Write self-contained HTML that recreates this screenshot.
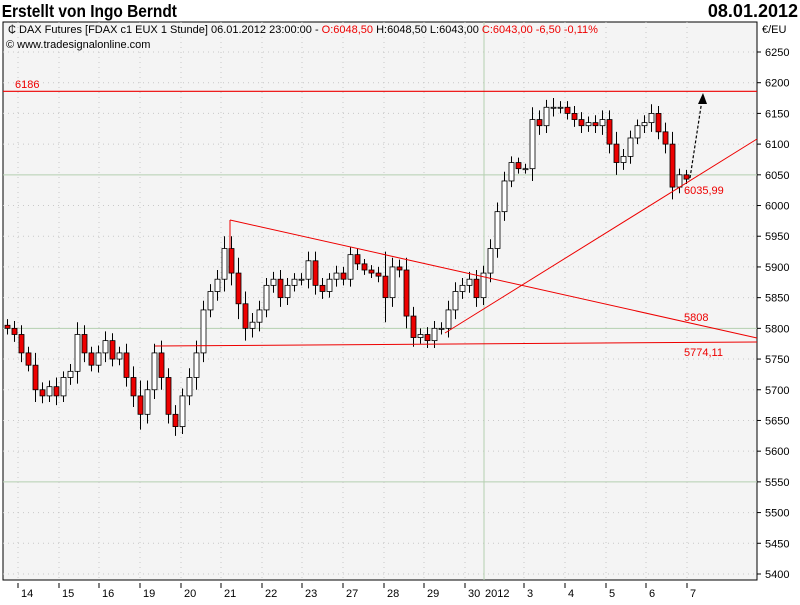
<!DOCTYPE html>
<html><head><meta charset="utf-8"><style>
body{margin:0;background:#fff;font-family:"Liberation Sans",sans-serif}
svg text{font-family:"Liberation Sans",sans-serif}
</style></head><body>
<svg id="c" width="800" height="600" xmlns="http://www.w3.org/2000/svg">
<rect x="0" y="0" width="800" height="600" fill="#fff"/>
<text x="2" y="17" font-size="18" font-weight="bold" transform="scale(0.86,1)">Erstellt von Ingo Berndt</text>
<text x="798" y="17" font-size="18" font-weight="bold" text-anchor="end">08.01.2012</text>
<rect x="3" y="22" width="754" height="558" fill="#f4f4f4" stroke="#000" stroke-width="1"/>
<g id="grid"></g>
<g id="candles"></g>
<g id="overlay"></g>
<text x="8" y="33" font-size="11">₵ DAX Futures [FDAX c1 EUX  1 Stunde] 06.01.2012 23:00:00 - <tspan fill="#e00">O:6048,50</tspan> H:6048,50 L:6043,00 <tspan fill="#e00">C:6043,00 -6,50 -0,11%</tspan></text>
<text x="6" y="48" font-size="11">© www.tradesignalonline.com</text>
<text x="762" y="33" font-size="11">€/EU</text>
</svg>
<script>
const yTicks=[6250,6200,6150,6100,6050,6000,5950,5900,5850,5800,5750,5700,5650,5600,5550,5500,5450,5400];
const xLabels=["14","15","16","19","20","21","22","23","27","28","29","30","2012","3","4","5","6","7"];
const xLabelPos=[18,59,99,140,181,221,262,302,343,384,424,465,500,524,565,606,646,687];
const closes=[5800,5790,5760,5740,5700,5690,5705,5690,5720,5730,5790,5760,5740,5760,5780,5750,5760,5720,5690,5660,5700,5760,5720,5660,5640,5690,5720,5760,5830,5860,5880,5930,5890,5840,5800,5810,5830,5870,5880,5850,5870,5880,5880,5910,5870,5860,5880,5890,5880,5920,5905,5895,5890,5885,5850,5900,5895,5820,5785,5790,5780,5800,5800,5830,5860,5870,5880,5850,5890,5930,5990,6040,6070,6060,6060,6140,6130,6160,6160,6160,6150,6140,6130,6135,6130,6140,6100,6070,6080,6110,6130,6135,6150,6120,6100,6030,6050,6043];
const wicks=[10,12,15,10,20,12,10,15,10,12,20,15,10,12,15,12,10,15,18,25,15,15,20,15,15,12,15,20,15,12,15,20,20,25,20,15,15,12,12,15,12,10,10,15,15,12,10,12,10,12,10,8,8,10,40,15,12,20,15,10,12,12,10,15,15,12,12,15,12,15,15,15,10,8,8,20,15,12,15,10,10,12,12,10,12,15,15,20,12,12,10,12,15,12,15,20,10,8];
const x0=5,step=7;
const Y=v=>52+(6250-v)*0.6141;
const X=i=>x0+i*step;
const NS='http://www.w3.org/2000/svg';
function mk(p,t,a){const e=document.createElementNS(NS,t);for(const k in a)e.setAttribute(k,a[k]);p.appendChild(e);return e;}
const svg=document.getElementById('c'),grid=document.getElementById('grid'),cg=document.getElementById('candles'),ov=document.getElementById('overlay');
yTicks.forEach(v=>{
 const y=Y(v);
 const green=(v===6050||v===5800||v===5550);
 const l=mk(grid,'line',{x1:3,x2:757,y1:y,y2:y,stroke:green?'#b5cfb0':'#c8c8c8','stroke-dasharray':green?'':'1,4'});
 
 
 const tk=mk(grid,'line',{x1:757,x2:761,y1:y,y2:y,stroke:'#000'});
 
 
 const t=mk(svg,'text',{x:765,y:y+4,'font-size':11});t.textContent=v;
 
 
});
xLabels.forEach((s,i)=>{
 const x=xLabelPos[i];
 if(s!=="2012"){
 const g=mk(grid,'line',{x1:x,x2:x,y1:22,y2:580,stroke:'#c8c8c8','stroke-dasharray':'1,4'});
 
 
 const tk=mk(grid,'line',{x1:x,x2:x,y1:583,y2:588,stroke:'#000'});
 
 
 }
 const t=mk(svg,'text',{x:s==="2012"?485:x+3,y:597,'font-size':11});t.textContent=s;
 
 
});
const yl=mk(grid,'line',{x1:484,x2:484,y1:22,y2:580,stroke:'#b5cfb0'});


closes.forEach((c,i)=>{
 const o=i?closes[i-1]:c+5;
 const hi=Math.max(o,c)+wicks[i],lo=Math.min(o,c)-wicks[i];
 const x=X(i);
 const w=mk(cg,'line',{x1:x+2.5,x2:x+2.5,y1:Y(hi),y2:Y(lo),stroke:'#000'});
 
 
 const top=Y(Math.max(o,c)),h=Math.max(1,Math.abs(Y(o)-Y(c)));
 const b=mk(cg,'rect',{x:x,y:top,width:5,height:h,fill:c>=o?'#fff':'#e00',stroke:'#000','stroke-width':0.8});
 
 
});
function line(a,n){const e=mk(ov,'line',a);return e;}
line({x1:3,x2:757,y1:Y(6186),y2:Y(6186),stroke:'#e00','stroke-width':1.2},'resistance-6186');
line({x1:230,y1:220,x2:757,y2:338,stroke:'#e00'},'downtrend-line');
line({x1:230,y1:220,x2:230,y2:262,stroke:'#e00'},'downtrend-start');
line({x1:155,y1:346,x2:757,y2:342,stroke:'#e00'},'support-5774');
line({x1:445,y1:333,x2:757,y2:139,stroke:'#e00'},'uptrend-line');
line({x1:690,y1:178,x2:702,y2:100,stroke:'#000','stroke-dasharray':'3,2','stroke-width':1.2},'forecast-arrow');
const ah=mk(ov,'polygon',{points:'703,93 698,104 707,104',fill:'#000'});


[[15,88,'6186'],[684,321,'5808'],[684,356,'5774,11'],[684,194,'6035,99']].forEach(d=>{
 const t=mk(ov,'text',{x:d[0],y:d[1],'font-size':11,fill:'#e00'});t.textContent=d[2];
 
 
});
</script>
</body></html>
